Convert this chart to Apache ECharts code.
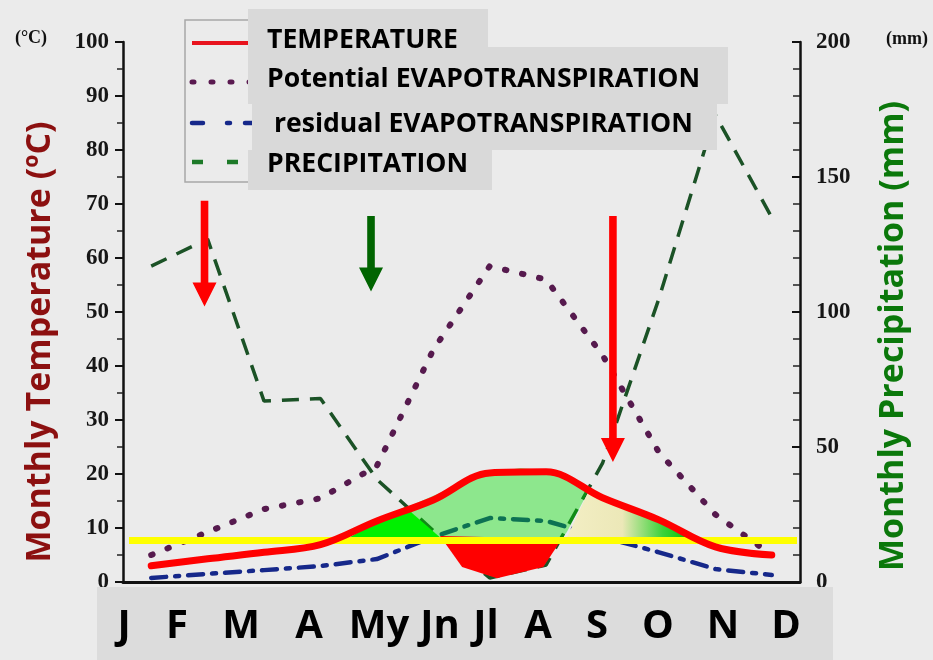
<!DOCTYPE html>
<html>
<head>
<meta charset="utf-8">
<title>Climate diagram</title>
<script src="https://cdn.jsdelivr.net/npm/echarts@6/dist/echarts.min.js"></script>
<style>
  html, body { margin: 0; padding: 0; background: #ebebeb; }
  #chart { width: 933px; height: 660px; }
</style>
</head>
<body>
<div id="chart"></div>
<script>
// Monthly climate values
const months = ['J', 'F', 'M', 'A', 'My', 'Jn', 'Jl', 'A', 'S', 'O', 'N', 'D'];
const temperature = [3.0, 4.3, 5.5, 6.9, 11.3, 15.2, 20.2, 20.4, 15.6, 11.5, 6.5, 5.0];       // ºC
const potentialET = [10, 18.5, 27, 31, 43, 86, 117, 112, 84, 48, 25, 10];                    // mm
const residualET = [1.5, 3.0, 4.4, 5.9, 8.5, 16.7, 23.7, 22.6, 16.7, 11.0, 4.8, 2.6];         // mm
const precipitation = [117, 127, 67, 68, 38, 19, 1.5, 6.3, 44, 105, 173, 135];               // mm
const threshold = 7.7;                                                                         // ºC

// Axis scales
const tempAxis = { min: 0, max: 100, step: 10 };
const precipAxis = { min: 0, max: 200, step: 50 };

// Shaded water-balance zones, as [month index, ºC] outlines
const rechargeZone = [[3.52, 8.3], [4.0, 11.3], [4.5, 13.9], [5.12, 8.3]];
const surplusZone = [[4.5, 13.7], [4.94, 15.7], [5.47, 18.1], [6.01, 20.2], [6.54, 21.1], [6.98, 20.7],
                     [7.42, 18.9], [7.78, 17.4], [7.37, 9.3], [7.3, 8.3], [5.12, 8.3]];
const deficitZone = [[5.12, 8.5], [5.51, 2.8], [6.13, 0.7], [6.95, 2.8], [7.28, 8.0]];
const drawdownZone = [[7.37, 8.3], [7.78, 17.4], [8.31, 14.6], [8.84, 11.7], [9.37, 9.6], [9.55, 8.3]];

// Season markers: [month index, start ºC, end ºC]
const redArrows = [[0.945, 70.6, 51.0], [8.184, 67.8, 22.2]];
const greenArrows = [[3.896, 67.8, 53.8]];

// Legend entries
const legendLabels = ['TEMPERATURE', 'Potential EVAPOTRANSPIRATION', ' residual EVAPOTRANSPIRATION', 'PRECIPITATION'];

const chart = echarts.init(document.getElementById('chart'), null, { renderer: 'canvas' });

const pairs = arr => arr.map((v, i) => [i, v]);

function polygonSeries(name, outline, fill, z) {
  return {
    name, type: 'custom', coordinateSystem: 'cartesian2d', yAxisIndex: 0, z, silent: true,
    data: [[0, 0]],
    renderItem: (params, api) => ({
      type: 'polygon',
      shape: { points: outline.map(p => api.coord(p)) },
      style: { fill }
    })
  };
}

function arrowSeries(name, arrows, color) {
  return {
    name, type: 'custom', coordinateSystem: 'cartesian2d', yAxisIndex: 0, z: 8, silent: true,
    data: arrows,
    renderItem: (params, api) => {
      const top = api.coord([api.value(0), api.value(1)]);
      const tip = api.coord([api.value(0), api.value(2)]);
      const x = top[0], sw = 3.8, hw = 12, hl = 24;
      return {
        type: 'polygon',
        shape: { points: [[x - sw, top[1]], [x + sw, top[1]], [x + sw, tip[1] - hl], [x + hw, tip[1] - hl],
                          [x, tip[1]], [x - hw, tip[1] - hl], [x - sw, tip[1] - hl]] },
        style: { fill: color }
      };
    }
  };
}

const axisFont = { fontFamily: 'Liberation Serif', fontWeight: 'bold', fontSize: 23, color: '#161616' };

const option = {
  backgroundColor: '#ebebeb',
  animation: false,
  grid: { left: 123, right: 133, top: 42, bottom: 78, containLabel: false },
  xAxis: {
    type: 'value', min: -0.5, max: 11.5,
    axisLine: { show: true, onZero: false, lineStyle: { color: '#111', width: 3 } },
    axisTick: { show: false }, axisLabel: { show: false }, splitLine: { show: false }
  },
  yAxis: [
    {
      type: 'value', position: 'left', min: tempAxis.min, max: tempAxis.max, interval: tempAxis.step,
      axisLine: { show: true, onZero: false, lineStyle: { color: '#111', width: 2.5 } },
      axisTick: { show: true, inside: false, length: 8, lineStyle: { color: '#111', width: 2 } },
      minorTick: { show: true, splitNumber: 2, length: 6, lineStyle: { color: '#222', width: 1.5 } },
      axisLabel: Object.assign({ margin: 14 }, axisFont),
      splitLine: { show: false }
    },
    {
      type: 'value', position: 'right', min: precipAxis.min, max: precipAxis.max, interval: precipAxis.step,
      axisLine: { show: true, onZero: false, lineStyle: { color: '#111', width: 2.5 } },
      axisTick: { show: true, inside: true, length: 8, lineStyle: { color: '#111', width: 2 } },
      minorTick: { show: true, splitNumber: 5, length: 7, lineStyle: { color: '#222', width: 1.5 } },
      axisLabel: Object.assign({ margin: 16 }, axisFont),
      splitLine: { show: false }
    }
  ],
  series: [
    {
      name: 'residual EVAPOTRANSPIRATION', type: 'line', yAxisIndex: 1, z: 2, silent: true,
      data: pairs(residualET), symbol: 'none',
      lineStyle: { color: '#16288a', width: 4.5, type: [15, 9, 4, 9], cap: 'round' }
    },
    {
      name: 'Potential EVAPOTRANSPIRATION', type: 'line', yAxisIndex: 1, z: 2, silent: true,
      data: pairs(potentialET), symbol: 'none',
      lineStyle: { color: '#561a4e', width: 6, type: [1.5, 16], cap: 'round' }
    },
    {
      name: 'PRECIPITATION', type: 'line', yAxisIndex: 1, z: 2, silent: true,
      data: pairs(precipitation), symbol: 'none',
      lineStyle: { color: '#1b5226', width: 3.5, type: [17, 11] }
    },
    polygonSeries('surplus', surplusZone, 'rgba(0,224,0,0.4)', 3),
    polygonSeries('recharge', rechargeZone, '#00f000', 4),
    polygonSeries('deficit', deficitZone, '#ff0000', 4),
    polygonSeries('drawdown', drawdownZone, new echarts.graphic.LinearGradient(0, 0, 1, 0, [
      { offset: 0, color: '#f3eec4' },
      { offset: 0.45, color: '#ece8b8' },
      { offset: 0.78, color: '#3ad23a' },
      { offset: 1, color: '#00c400' }
    ]), 4),
    {
      name: 'threshold', type: 'custom', coordinateSystem: 'cartesian2d', yAxisIndex: 0, z: 5, silent: true,
      data: [[0, threshold]],
      renderItem: (params, api) => {
        const y = api.coord([0, api.value(1)])[1];
        const cs = params.coordSys;
        return {
          type: 'line',
          shape: { x1: cs.x + 6, y1: y, x2: cs.x + cs.width - 3, y2: y },
          style: { stroke: '#ffff00', lineWidth: 7 }
        };
      }
    },
    {
      name: 'TEMPERATURE', type: 'line', yAxisIndex: 0, z: 6, silent: true,
      data: pairs(temperature), symbol: 'none', smooth: 0.35,
      lineStyle: { color: '#ff0000', width: 7, cap: 'round' }
    },
    arrowSeries('red markers', redArrows, '#ff0000'),
    arrowSeries('green markers', greenArrows, '#006400')
  ],
  graphic: []
};

// Month labels in a grey band under the plot
const monthX = [124, 177, 241, 309, 379, 440, 486, 538, 597, 658, 723, 786];
option.graphic.push({ type: 'rect', silent: true, shape: { x: 97, y: 587, width: 736, height: 73 }, style: { fill: '#dcdcdc' }, z: 10 });
months.forEach((m, i) => {
  option.graphic.push({
    type: 'text', silent: true, x: monthX[i], y: 627, z: 11,
    style: { text: m, fill: '#000', font: 'bold 40px "Open Sans"', textAlign: 'center', textVerticalAlign: 'middle' }
  });
});

// Legend frame and sample strokes
option.graphic.push({ type: 'rect', silent: true, shape: { x: 185, y: 20, width: 90, height: 162 }, style: { fill: 'none', stroke: '#a8a8a8', lineWidth: 1.5 }, z: 10 });
const sampleY = [43, 82, 123, 162];
const sampleStyles = [
  { stroke: '#e8141e', lineWidth: 4, lineDash: null },
  { stroke: '#5a1a50', lineWidth: 5, lineDash: [2, 17], lineCap: 'round' },
  { stroke: '#16288a', lineWidth: 4.5, lineDash: [11, 24, 3, 15], lineCap: 'round' },
  { stroke: '#1d7a28', lineWidth: 4.5, lineDash: [11, 24] }
];
sampleY.forEach((y, i) => {
  option.graphic.push({ type: 'line', silent: true, shape: { x1: 192, y1: y, x2: 262, y2: y }, style: sampleStyles[i], z: 10 });
});

// Grey label plates with legend text
const plates = [[248, 9, 240, 41], [248, 47, 480, 57], [252, 103, 465, 47], [248, 150, 244, 40]];
const legendY = [40, 79, 124, 164];
plates.forEach((p, i) => {
  option.graphic.push({ type: 'rect', silent: true, shape: { x: p[0], y: p[1], width: p[2], height: p[3] }, style: { fill: '#d9d9d9' }, z: 11 + i });
});
legendLabels.forEach((t, i) => {
  option.graphic.push({
    type: 'text', silent: true, x: 267, y: legendY[i], z: 20,
    style: { text: t, fill: '#000', font: 'bold 26.6px "Open Sans"', textVerticalAlign: 'middle' }
  });
});

// Axis titles and units
option.graphic.push({
  type: 'text', silent: true, x: 40, y: 342, rotation: Math.PI / 2, z: 20,
  style: { text: 'Monthly Temperature (ºC)', fill: '#8c1010', font: 'bold 34px "Open Sans"', textAlign: 'center', textVerticalAlign: 'middle' }
});
option.graphic.push({
  type: 'text', silent: true, x: 893, y: 336, rotation: Math.PI / 2, z: 20,
  style: { text: 'Monthly Precipitation (mm)', fill: '#0b780b', font: 'bold 34px "Open Sans"', textAlign: 'center', textVerticalAlign: 'middle' }
});
option.graphic.push({
  type: 'text', silent: true, x: 31, y: 38, z: 20,
  style: { text: '(°C)', fill: '#111', font: 'bold 18px "Liberation Serif"', textAlign: 'center', textVerticalAlign: 'middle' }
});
option.graphic.push({
  type: 'text', silent: true, x: 907, y: 39, z: 20,
  style: { text: '(mm)', fill: '#111', font: 'bold 18px "Liberation Serif"', textAlign: 'center', textVerticalAlign: 'middle' }
});

chart.setOption(option);
</script>
</body>
</html>
